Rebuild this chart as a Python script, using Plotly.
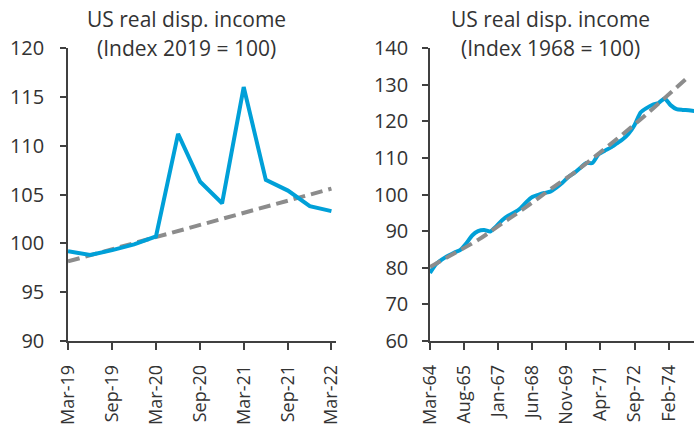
import plotly.graph_objects as go
import pandas as pd

# ---- Left panel data (Index 2019 = 100), quarterly ----
left_dates = ["2019-03-01", "2019-06-01", "2019-09-01", "2019-12-01",
              "2020-03-01", "2020-06-01", "2020-09-01", "2020-12-01",
              "2021-03-01", "2021-06-01", "2021-09-01", "2021-12-01",
              "2022-03-01"]
left_income = [99.2, 98.8, 99.3, 99.9, 100.7, 111.2, 106.3, 104.1,
               116.0, 106.5, 105.4, 103.8, 103.3]
left_trend_dates = ["2019-03-01", "2022-03-01"]
left_trend = [98.15, 105.6]
left_tickvals = ["2019-03-01", "2019-09-01", "2020-03-01", "2020-09-01",
                 "2021-03-01", "2021-09-01", "2022-03-01"]
left_ticktext = ["Mar-19", "Sep-19", "Mar-20", "Sep-20", "Mar-21", "Sep-21", "Mar-22"]

# ---- Right panel data (Index 1968 = 100), quarterly ----
right_dates = [d.strftime("%Y-%m-%d") for d in pd.date_range("1964-03-01", "1975-03-01", freq="3MS")]
right_income = [78.6, 81.0, 82.3, 83.3, 84.1, 84.8, 86.6, 88.8, 90.0, 90.3,
                89.9, 91.3, 93.0, 94.2, 95.1, 96.2, 97.9, 99.3, 99.9, 100.4,
                100.8, 101.9, 103.2, 104.8, 105.9, 107.3, 108.6, 108.6, 110.9, 111.9,
                112.8, 113.9, 115.0, 116.6, 119.0, 122.4, 123.6, 124.5, 125.0, 126.2,
                124.4, 123.3, 123.1, 123.0, 122.8]
right_trend_dates = ["1964-03-01", "1965-03-01", "1966-03-01", "1967-03-01",
                     "1968-03-01", "1969-03-01", "1970-03-01", "1971-03-01",
                     "1972-03-01", "1973-03-01", "1974-03-01", "1974-12-01"]
right_trend = [80.2, 83.9, 87.6, 92.1, 96.6, 101.4, 106.0, 111.1,
               116.4, 121.9, 127.8, 132.2]
right_tickvals = ["1964-03-01", "1965-08-01", "1967-01-01", "1968-06-01",
                  "1969-11-01", "1971-04-01", "1972-09-01", "1974-02-01"]
right_ticktext = ["Mar-64", "Aug-65", "Jan-67", "Jun-68", "Nov-69", "Apr-71", "Sep-72", "Feb-74"]

titles_left = ["US real disp. income", "(Index 2019 = 100)"]
titles_right = ["US real disp. income", "(Index 1968 = 100)"]

BLUE = "#00A0D8"
GREY = "#8C8C8C"
TXT = "#333333"
AX = "#404040"
FONT = "Open Sans"

fig = go.Figure()
fig.add_trace(go.Scatter(x=left_trend_dates, y=left_trend, mode="lines",
                         line=dict(color=GREY, width=4, dash="12px,6px"),
                         xaxis="x", yaxis="y", showlegend=False))
fig.add_trace(go.Scatter(x=left_dates, y=left_income, mode="lines",
                         line=dict(color=BLUE, width=4),
                         xaxis="x", yaxis="y", showlegend=False))
fig.add_trace(go.Scatter(x=right_dates, y=right_income, mode="lines",
                         line=dict(color=BLUE, width=4, shape="spline", smoothing=0.6),
                         xaxis="x2", yaxis="y2", showlegend=False))
fig.add_trace(go.Scatter(x=right_trend_dates, y=right_trend, mode="lines",
                         line=dict(color=GREY, width=4, dash="12px,6px", shape="spline"),
                         xaxis="x2", yaxis="y2", showlegend=False))

W, H = 694, 430
TOP, BOT = 48, 341
PH = BOT - TOP

common_x = dict(showgrid=False, zeroline=False, showline=True, linecolor=AX, linewidth=1.5,
                ticks="outside", ticklen=7, tickcolor=AX, tickwidth=1.5,
                tickangle=-90, tickfont=dict(family=FONT, size=18, color=TXT),
                type="date", automargin=False, ticklabelstandoff=8)
common_y = dict(showgrid=False, zeroline=False, showline=True, linecolor=AX, linewidth=1.5,
                ticks="outside", ticklen=6, tickcolor=AX, tickwidth=1.5,
                tickfont=dict(family=FONT, size=20, color=TXT), domain=[0, 1], automargin=False)

fig.update_layout(
    width=W, height=H,
    margin=dict(l=0, r=0, t=TOP, b=H - BOT, autoexpand=False),
    paper_bgcolor="white", plot_bgcolor="white",
    font=dict(family=FONT, color=TXT),
    xaxis=dict(common_x, domain=[68 / W, 336 / W], anchor="y",
               range=["2019-03-01", "2022-03-20"],
               tickmode="array", tickvals=left_tickvals, ticktext=left_ticktext),
    yaxis=dict(common_y, anchor="x", range=[90, 120], tickvals=[90, 95, 100, 105, 110, 115, 120],
               ticklabelstandoff=12),
    xaxis2=dict(common_x, domain=[430 / W, 1.0], anchor="y2",
                range=["1964-03-01", "1975-02-20"],
                tickmode="array", tickvals=right_tickvals, ticktext=right_ticktext),
    yaxis2=dict(common_y, anchor="x2", range=[60, 140],
                tickvals=[60, 70, 80, 90, 100, 110, 120, 130, 140],
                ticklabelstandoff=10),
)

for cx, lines in [(186, titles_left), (550, titles_right)]:
    for cy, t in zip([19, 48], lines):
        fig.add_annotation(text=t, x=cx / W, y=(BOT - cy) / PH, xref="paper", yref="paper",
                           xanchor="center", yanchor="middle", showarrow=False,
                           font=dict(family=FONT, size=21, color=TXT))

fig.write_html("out.html", config={"displayModeBar": False},
               post_script="document.body.style.margin='0';document.body.style.overflow='hidden';")
